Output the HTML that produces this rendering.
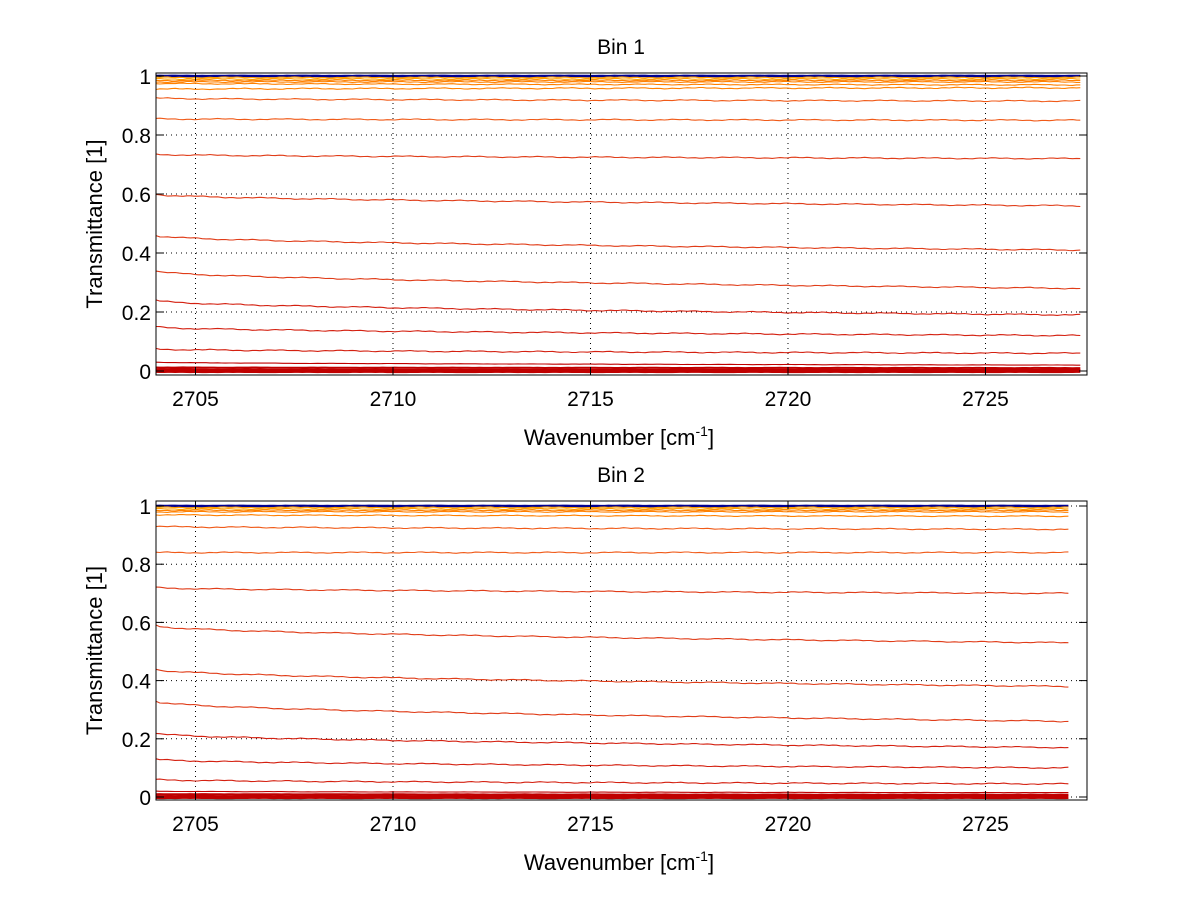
<!DOCTYPE html>
<html><head><meta charset="utf-8"><style>
body{margin:0;background:#fff}
svg text{font-family:"Liberation Sans",sans-serif;fill:#000}
</style></head><body>
<svg id="fig" width="1200" height="901" xmlns="http://www.w3.org/2000/svg"></svg>
<script>
// x-axis ticks (shared)
const xTicks = [2705, 2710, 2715, 2720, 2725];
const yTicks = [0, 0.2, 0.4, 0.6, 0.8, 1];
// Bin 1 series: start and end transmittance values
const bin1Start = [1.0, 0.995, 0.99, 0.985, 0.98, 0.975, 0.955, 0.925, 0.855, 0.735, 0.60, 0.46, 0.34, 0.24, 0.15, 0.075, 0.03, 0.012, 0.005, 0.0];
const bin1End   = [1.0, 0.995, 0.99, 0.985, 0.98, 0.97, 0.96, 0.915, 0.85, 0.72, 0.56, 0.41, 0.28, 0.19, 0.12, 0.06, 0.02, 0.01, 0.004, 0.0];
// Bin 2 series
const bin2Start = [1.0, 0.995, 0.99, 0.985, 0.98, 0.97, 0.93, 0.84, 0.72, 0.59, 0.44, 0.33, 0.22, 0.13, 0.06, 0.02, 0.01, 0.0];
const bin2End   = [1.0, 0.995, 0.99, 0.985, 0.98, 0.965, 0.92, 0.84, 0.70, 0.53, 0.38, 0.26, 0.17, 0.10, 0.045, 0.015, 0.008, 0.0];
const xStart = 2704.0;
const bin1XEnd = 2727.4;
const bin2XEnd = 2727.1;

const NS = "http://www.w3.org/2000/svg";
const svg = document.getElementById('fig');
function el(tag, attrs, parent){const e=document.createElementNS(NS,tag);for(const k in attrs)e.setAttribute(k,attrs[k]);(parent||svg).appendChild(e);return e;}
function color(v){
  if (v>=0.999) return '#00008f';
  if (v>=0.99) return '#ffa000';
  if (v>=0.95) return '#ff8000';
  if (v>=0.8) return '#f05a18';
  if (v>=0.3) return '#e03c18';
  if (v>=0.05) return '#d42010';
  return '#c00000';
}
function noise(i,k){return Math.sin(i*1.7+k*3.1)*0.4+Math.sin(i*0.37+k)*0.6;}

function panel(name, top, bottom, zeroY, oneY, starts, ends, xEnd, title){
  const L=156, R=1087;
  const xs = x => L + (x - xStart) / (2727.57 - xStart) * (R - L);
  const ys = v => zeroY - v * (zeroY - oneY);
  const g = el('g', {});
  
  
  xTicks.forEach(t=>{el('line',{x1:xs(t),x2:xs(t),y1:top,y2:bottom,stroke:'#000','stroke-width':1,'stroke-dasharray':'1,4'},g);});
  yTicks.forEach(t=>{el('line',{x1:L,x2:R,y1:ys(t),y2:ys(t),stroke:'#000','stroke-width':1,'stroke-dasharray':'1,4'},g);});
  starts.forEach((s,k)=>{
    const e = ends[k]; const n=240; let d='';
    const amp = (s>0.04 && s<0.97) ? 0.0025 : (s>=0.97 && s<0.999 ? 0.002 : 0.0005);
    for(let i=0;i<=n;i++){
      const f=i/n; const x = xStart + f*(xEnd-xStart);
      const v = s + (e-s)*Math.sqrt(f) + amp*noise(i,k);
      d += (i?'L':'M') + xs(x).toFixed(1) + ',' + ys(Math.min(v,1.003)).toFixed(1);
    }
    const w = s<0.001 ? 4 : (s<0.02 ? 2 : (s>=0.999 ? 2.5 : 1.1));
    const p = el('path',{d:d,fill:'none',stroke:color(s),'stroke-width':w},g);
    
    
  });
  el('rect',{x:L,y:top,width:R-L,height:bottom-top,fill:'none',stroke:'#000','stroke-width':1},g);
  xTicks.forEach(t=>{
    el('line',{x1:xs(t),x2:xs(t),y1:bottom,y2:bottom-8,stroke:'#000'},g);
    el('line',{x1:xs(t),x2:xs(t),y1:top,y2:top+8,stroke:'#000'},g);
    const tx=el('text',{x:xs(t),y:bottom+31,'font-size':21,'text-anchor':'middle'},g);tx.textContent=t;
    
    
  });
  yTicks.forEach(t=>{
    el('line',{x1:L,x2:L+8,y1:ys(t),y2:ys(t),stroke:'#000'},g);
    el('line',{x1:R,x2:R-8,y1:ys(t),y2:ys(t),stroke:'#000'},g);
    const tx=el('text',{x:L-5,y:ys(t)+8,'font-size':21,'text-anchor':'end'},g);tx.textContent=t;
    
    
  });
  const ti=el('text',{x:621,y:top-19,'font-size':21,'text-anchor':'middle'},g);ti.textContent=title;
  
  
  const xl=el('text',{x:619,y:bottom+70,'font-size':22,'text-anchor':'middle'},g);
  xl.innerHTML='Wavenumber [cm<tspan dy="-9" font-size="14">-1</tspan><tspan dy="9">]</tspan>';
  
  
  const cy=(top+bottom)/2;
  const yl=el('text',{x:102,y:cy,'font-size':22,'text-anchor':'middle',transform:`rotate(-90 102 ${cy})`},g);yl.textContent='Transmittance [1]';
  
  
}
panel('bin1-panel', 73, 375, 371, 76, bin1Start, bin1End, bin1XEnd, 'Bin 1');
panel('bin2-panel', 501, 800, 797, 506, bin2Start, bin2End, bin2XEnd, 'Bin 2');
</script>
</body></html>
